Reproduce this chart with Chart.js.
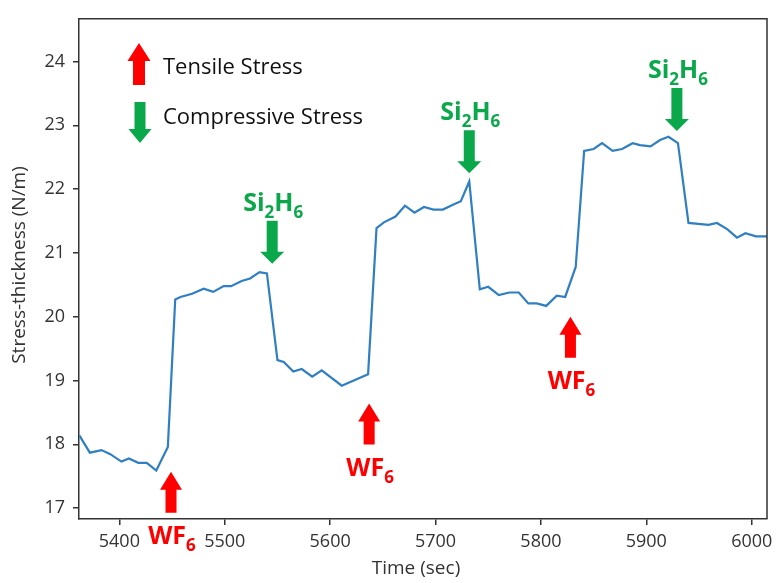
<!DOCTYPE html>
<html>
<head>
<meta charset="utf-8">
<script src="https://cdn.jsdelivr.net/npm/chart.js@4.4.1/dist/chart.umd.min.js"></script>
<style>
  html, body { margin: 0; padding: 0; background: #fff; }
  #wrap { width: 780px; height: 583px; }
</style>
</head>
<body>
<div id="wrap"><canvas id="stress_graph" width="780" height="583"></canvas></div>
<script>
// time (sec) and stress-thickness (N/m)
const times = [5362, 5372, 5383, 5391, 5402, 5409, 5418, 5426, 5435, 5446, 5453,
  5458, 5469, 5480, 5489, 5499, 5506, 5516, 5524, 5533, 5540,
  5550, 5556, 5565, 5573, 5583, 5592, 5611, 5636,
  5644, 5651, 5662, 5671, 5680, 5689, 5698, 5707, 5716, 5724, 5732,
  5742, 5750, 5760, 5770, 5779, 5788, 5796, 5805, 5815, 5823, 5833,
  5841, 5850, 5858, 5868, 5877, 5887, 5894, 5904, 5913, 5921, 5930,
  5940, 5959, 5967, 5977, 5986, 5994, 6004, 6015];
const stress = [18.14, 17.87, 17.91, 17.85, 17.73, 17.78, 17.71, 17.71, 17.59, 17.96, 20.27,
  20.31, 20.36, 20.44, 20.39, 20.48, 20.48, 20.56, 20.60, 20.70, 20.68,
  19.32, 19.29, 19.14, 19.18, 19.06, 19.16, 18.92, 19.10,
  21.39, 21.48, 21.57, 21.74, 21.63, 21.72, 21.68, 21.68, 21.75, 21.81, 22.12,
  20.43, 20.47, 20.34, 20.38, 20.38, 20.21, 20.21, 20.17, 20.33, 20.31, 20.78,
  22.60, 22.63, 22.72, 22.60, 22.63, 22.72, 22.69, 22.67, 22.77, 22.82, 22.72,
  21.47, 21.44, 21.47, 21.37, 21.24, 21.31, 21.26, 21.26];

const xTicks = [5400, 5500, 5600, 5700, 5800, 5900, 6000];
const yTicks = [17, 18, 19, 20, 21, 22, 23, 24];

// gas pulses: where each arrow points (time, stress at arrow tip)
const wfTimes = [5449, 5637, 5828];
const wfTips = [17.57, 18.64, 20.0];
const siTimes = [5545, 5732, 5929];
const siTips = [20.83, 22.25, 22.91];

const RED = '#ff0000';
const GREEN = '#0aa84a';
const AXIS = '#333333';
const FONT = '"Open Sans", sans-serif';

function arrow(ctx, x, tipY, dir, len, shaftW, headW, headH, color){
    // dir = 1 points up (tip on top), -1 points down
    let baseY = tipY + dir * len;
    let neckY = tipY + dir * headH;
    ctx.fillStyle = color;
    ctx.beginPath();
    ctx.moveTo(x, tipY);
    ctx.lineTo(x + headW / 2, neckY);
    ctx.lineTo(x + shaftW / 2, neckY);
    ctx.lineTo(x + shaftW / 2, baseY);
    ctx.lineTo(x - shaftW / 2, baseY);
    ctx.lineTo(x - shaftW / 2, neckY);
    ctx.lineTo(x - headW / 2, neckY);
    ctx.closePath();
    ctx.fill();
}

function chem(ctx, parts, cx, baseline, size, color){
    // parts: [text, isSubscript]
    let big = 'bold ' + size + 'px ' + FONT;
    let small = 'bold ' + Math.round(size * 0.68) + 'px ' + FONT;
    let w = 0;
    parts.forEach(function(p){
        ctx.font = p[1] ? small : big;
        w += ctx.measureText(p[0]).width;
    });
    let x = cx - w / 2;
    ctx.fillStyle = color;
    ctx.textAlign = 'left';
    ctx.textBaseline = 'alphabetic';
    parts.forEach(function(p){
        ctx.font = p[1] ? small : big;
        ctx.fillText(p[0], x, baseline + (p[1] ? size * 0.28 : 0));
        x += ctx.measureText(p[0]).width;
    });
}

const decorations = {
    id: 'decorations',
    afterDraw: function(chart){
        let ctx = chart.ctx;
        let area = chart.chartArea;
        let xs = chart.scales.x;
        let ys = chart.scales.y;
        ctx.save();

        // top and right spines
        ctx.strokeStyle = AXIS;
        ctx.lineWidth = 1.5;
        ctx.beginPath();
        ctx.moveTo(area.left, area.top);
        ctx.lineTo(area.right, area.top);
        ctx.lineTo(area.right, area.bottom);
        ctx.stroke();

        // legend
        arrow(ctx, 139, 43, 1, 42, 12, 23, 18, RED);
        arrow(ctx, 140, 143, -1, 41, 11, 23, 14, GREEN);
        ctx.fillStyle = '#111';
        ctx.font = '22px ' + FONT;
        ctx.textAlign = 'left';
        ctx.textBaseline = 'middle';
        ctx.fillText('Tensile Stress', 163, 68);
        ctx.fillText('Compressive Stress', 163, 118);

        // WF6 pulses (tensile)
        wfTimes.forEach(function(t, i){
            let x = xs.getPixelForValue(t);
            let tip = ys.getPixelForValue(wfTips[i]);
            arrow(ctx, x, tip, 1, 41, 11, 22, 18, RED);
            chem(ctx, [['WF', 0], ['6', 1]], x + 1, tip + 72, 25, RED);
        });

        // Si2H6 pulses (compressive)
        siTimes.forEach(function(t, i){
            let x = xs.getPixelForValue(t);
            let tip = ys.getPixelForValue(siTips[i]);
            arrow(ctx, x, tip, -1, 43, 11, 24, 12, GREEN);
            chem(ctx, [['Si', 0], ['2', 1], ['H', 0], ['6', 1]], x + 1, tip - 53, 25, GREEN);
        });

        // axis titles
        ctx.fillStyle = AXIS;
        ctx.font = '19px ' + FONT;
        ctx.textAlign = 'center';
        ctx.textBaseline = 'middle';
        ctx.fillText('Time (sec)', 416, 569);
        ctx.translate(20, 265);
        ctx.rotate(-Math.PI / 2);
        ctx.fillText('Stress-thickness (N/m)', 0, 0);
        ctx.restore();
    }
};

let ctxEl = document.getElementById('stress_graph');
let points = times.map(function(t, i){ return {x: t, y: stress[i]}; });

new Chart(ctxEl, {
    type: 'line',
    data: {
        datasets: [{
            data: points,
            borderColor: '#2f7fc2',
            borderWidth: 2.2,
            pointRadius: 0,
            tension: 0,
            fill: false
        }]
    },
    options: {
        responsive: false,
        maintainAspectRatio: false,
        animation: false,
        layout: { padding: { left: 0, top: 8, right: 13, bottom: 0 } },
        plugins: { legend: { display: false }, tooltip: { enabled: false } },
        scales: {
            x: {
                type: 'linear',
                min: 5361.7,
                max: 6014.5,
                afterBuildTicks: function(scale){
                    scale.ticks = xTicks.map(function(v){ return {value: v}; });
                },
                afterFit: function(scale){ scale.height = 64; },
                ticks: {
                    color: AXIS, font: { family: FONT, size: 18 }, padding: 6, maxRotation: 0,
                    callback: function(v){ return String(v); }
                },
                grid: { display: true, drawOnChartArea: false, drawTicks: true, tickLength: 6, color: AXIS, lineWidth: 1.5 },
                border: { display: true, color: AXIS, width: 1.5 }
            },
            y: {
                type: 'linear',
                min: 16.83,
                max: 24.67,
                afterBuildTicks: function(scale){
                    scale.ticks = yTicks.map(function(v){ return {value: v}; });
                },
                afterFit: function(scale){ scale.width = 79; },
                ticks: {
                    color: AXIS, font: { family: FONT, size: 18 }, padding: 8,
                    callback: function(v){ return String(v); }
                },
                grid: { display: true, drawOnChartArea: false, drawTicks: true, tickLength: 6, color: AXIS, lineWidth: 1.5 },
                border: { display: true, color: AXIS, width: 1.5 }
            }
        }
    },
    plugins: [decorations]
});
</script>
</body>
</html>
